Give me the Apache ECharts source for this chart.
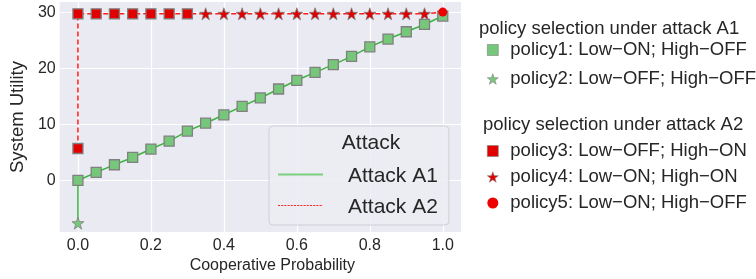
<!DOCTYPE html>
<html>
<head>
<meta charset="utf-8">
<script src="https://cdn.jsdelivr.net/npm/echarts@6/dist/echarts.min.js"></script>
<style>html,body{margin:0;padding:0;background:#fff;}#c{width:756px;height:279px;}</style>
</head>
<body>
<div id="c"></div>
<script>
// ---- data ----
const xProb = [0, 0.05, 0.1, 0.15, 0.2, 0.25, 0.3, 0.35, 0.4, 0.45, 0.5, 0.55, 0.6, 0.65, 0.7, 0.75, 0.8, 0.85, 0.9, 0.95, 1.0];
const a1Utility = [0, 1.45, 2.8, 4.1, 5.6, 7.0, 8.8, 10.2, 11.7, 13.2, 14.7, 16.3, 17.85, 19.25, 20.65, 22.1, 23.8, 25.2, 26.5, 27.8, 29.3];
const policy2X = [0];
const policy2Y = [-7.6];
const policy3X = [0, 0, 0.05, 0.1, 0.15, 0.2, 0.25, 0.3];
const policy3Y = [5.7, 29.7, 29.7, 29.7, 29.7, 29.7, 29.7, 29.7];
const policy4X = [0.35, 0.4, 0.45, 0.5, 0.55, 0.6, 0.65, 0.7, 0.75, 0.8, 0.85, 0.9, 0.95];
const policy4Y = [29.7, 29.7, 29.7, 29.7, 29.7, 29.7, 29.7, 29.7, 29.7, 29.7, 29.7, 29.7, 29.7];
const policy5X = [1.0];
const policy5Y = [30.0];
const xTicks = [0, 0.2, 0.4, 0.6, 0.8, 1.0];
const yTicks = [0, 10, 20, 30];
const attackNames = ['Attack A1', 'Attack A2'];
const policyA1Names = ['policy1: Low\u2212ON; High\u2212OFF', 'policy2: Low\u2212OFF; High\u2212OFF'];
const policyA2Names = ['policy3: Low\u2212OFF; High\u2212ON', 'policy4: Low\u2212ON; High\u2212ON', 'policy5: Low\u2212ON; High\u2212OFF'];

// ---- build ----
const zip = (xs, ys) => xs.map((x, i) => [x, ys[i]]);
const p1 = zip(xProb, a1Utility);
const p2 = zip(policy2X, policy2Y);
const p3 = zip(policy3X, policy3Y);
const p4 = zip(policy4X, policy4Y);
const p5 = zip(policy5X, policy5Y);
const lineA1 = p2.concat(p1);
const lineA2 = p3.concat(p4, p5);

const STAR = 'path://M50,0 L61.8,33.8 L97.6,34.5 L69,56.2 L79.4,90.5 L50,70 L20.6,90.5 L31,56.2 L2.4,34.5 L38.2,33.8 Z';
const FONT = 'Liberation Sans';
const TXT = '#262626';
const GREEN = '#77c77a';
const RED = '#e00000';
const EDGE = '#808080';

const chart = echarts.init(document.getElementById('c'), null, {renderer: 'canvas'});
chart.setOption({
  animation: false,
  backgroundColor: '#ffffff',
  textStyle: {fontFamily: FONT},
  grid: {left: 52, right: 295, top: 2, bottom: 42, show: true, backgroundColor: '#eaeaf2', borderWidth: 0, containLabel: false},
  title: [
    {text: 'Attack', left: 371, top: 133, textAlign: 'center', padding: 0, z: 10,
     textStyle: {fontFamily: FONT, fontSize: 21, fontWeight: 'normal', color: TXT}},
    {text: 'policy selection under attack A1', left: 479, top: 19, padding: 0,
     textStyle: {fontFamily: FONT, fontSize: 18.5, fontWeight: 'normal', color: TXT}},
    {text: 'policy selection under attack A2', left: 483, top: 115, padding: 0,
     textStyle: {fontFamily: FONT, fontSize: 18.5, fontWeight: 'normal', color: TXT}}
  ],
  // legend sample strokes for the "Attack" box (drawn over the legend's hidden icons)
  graphic: [
    {type: 'line', z: 20, silent: true, shape: {x1: 278, y1: 174.5, x2: 323, y2: 174.5},
     style: {stroke: '#7ccf7e', lineWidth: 2.2}},
    {type: 'line', z: 20, silent: true, shape: {x1: 278, y1: 205.5, x2: 323, y2: 205.5},
     style: {stroke: '#ff2020', lineWidth: 1.1, lineDash: [2, 1.2]}}
  ],
  xAxis: {
    type: 'value', min: -0.05, max: 1.05,
    name: 'Cooperative Probability', nameLocation: 'middle', nameGap: 22,
    nameTextStyle: {fontFamily: FONT, fontSize: 16, color: TXT, padding: [0, 0, 0, 24]},
    axisLine: {show: false},
    axisTick: {show: false, customValues: xTicks},
    axisLabel: {customValues: xTicks, fontFamily: FONT, fontSize: 16, color: TXT, margin: 5,
      formatter: v => v.toFixed(1)},
    splitLine: {show: true, lineStyle: {color: '#ffffff', width: 1.2}}
  },
  yAxis: {
    type: 'value', min: -9.2, max: 31.8,
    name: 'System Utility', nameLocation: 'middle', nameGap: 25,
    nameTextStyle: {fontFamily: FONT, fontSize: 18.5, color: TXT},
    axisLine: {show: false},
    axisTick: {show: false, customValues: yTicks},
    axisLabel: {customValues: yTicks, fontFamily: FONT, fontSize: 16, color: TXT, margin: 4},
    splitLine: {show: true, lineStyle: {color: '#ffffff', width: 1.2}}
  },
  legend: [
    {
      data: attackNames,
      orient: 'vertical', left: 269, top: 126,
      padding: [40, 11, 7, 8], itemGap: 10, itemWidth: 45, itemHeight: 14,
      itemStyle: {opacity: 0, borderWidth: 0},
      lineStyle: {opacity: 0},
      backgroundColor: 'rgba(236,236,243,0.85)', borderColor: '#cfcfd6', borderWidth: 1, borderRadius: 4,
      textStyle: {fontFamily: FONT, fontSize: 21, color: TXT, lineHeight: 21, padding: [0, 0, 0, 20]},
      z: 5
    },
    {
      data: policyA1Names, orient: 'vertical', left: 487, top: 40, padding: 0,
      itemGap: 9, itemWidth: 11, itemHeight: 11,
      itemStyle: {borderWidth: 0.6},
      textStyle: {fontFamily: FONT, fontSize: 18.5, color: TXT, lineHeight: 20, padding: [0, 0, 0, 7]}
    },
    {
      data: policyA2Names, orient: 'vertical', left: 487, top: 141, padding: 0,
      itemGap: 6, itemWidth: 11, itemHeight: 11,
      itemStyle: {borderWidth: 0.6},
      textStyle: {fontFamily: FONT, fontSize: 18.5, color: TXT, lineHeight: 20, padding: [0, 0, 0, 7]}
    }
  ],
  series: [
    {name: attackNames[0], type: 'line', data: lineA1, symbol: 'none', z: 2,
     lineStyle: {color: '#39b53c', width: 1.5}, itemStyle: {color: '#39b53c'}},
    {name: attackNames[1], type: 'line', data: lineA2, symbol: 'none', z: 2,
     lineStyle: {color: '#ff1a1a', width: 1.5, type: [5, 3]}, itemStyle: {color: '#ff1a1a'}},
    {name: policyA1Names[0], type: 'scatter', data: p1, symbol: 'rect', symbolSize: 10, z: 3,
     itemStyle: {color: GREEN, borderColor: EDGE, borderWidth: 1.3, opacity: 1}},
    {name: policyA1Names[1], type: 'scatter', data: p2, symbol: STAR, symbolSize: 12, z: 3,
     itemStyle: {color: GREEN, borderColor: EDGE, borderWidth: 0.8, opacity: 1}},
    {name: policyA2Names[0], type: 'scatter', data: p3, symbol: 'rect', symbolSize: 10, z: 4,
     itemStyle: {color: RED, borderColor: EDGE, borderWidth: 1.3, opacity: 1}},
    {name: policyA2Names[1], type: 'scatter', data: p4, symbol: STAR, symbolSize: 12, z: 4,
     itemStyle: {color: RED, borderColor: EDGE, borderWidth: 0.8, opacity: 1}},
    {name: policyA2Names[2], type: 'scatter', data: p5, symbol: 'circle', symbolSize: 9, z: 4,
     itemStyle: {color: '#ee0000', opacity: 1}}
  ]
});
</script>
</body>
</html>
